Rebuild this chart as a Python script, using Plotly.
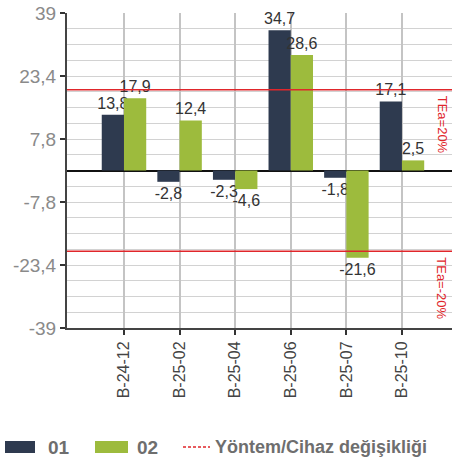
import plotly.graph_objects as go

# ---- data ----
categories = ["B-24-12", "B-25-02", "B-25-04", "B-25-06", "B-25-07", "B-25-10"]
series_01 = [13.8, -2.8, -2.3, 34.7, -1.8, 17.1]
series_02 = [17.9, 12.4, -4.6, 28.6, -21.6, 2.5]
tea_limits = [20, -20]
tea_labels = ["TEa=20%", "TEa=-20%"]
y_tickvals = [-39, -23.4, -7.8, 7.8, 23.4, 39]
y_ticktext = ["-39", "-23,4", "-7,8", "7,8", "23,4", "39"]
legend_names = ["01", "02", "Yöntem/Cihaz değişikliği"]

C01 = "#2e3a4f"
C02 = "#9dbb3d"
RED = "#e0262b"

W, H = 452, 461
PLOT_L, PLOT_T, PLOT_R, PLOT_B = 67, 13, 452, 328  # page pixels

def fmt(v):
    return f"{v:.1f}".replace(".", ",")

fig = go.Figure()
for name, vals, col in [("01", series_01, C01), ("02", series_02, C02)]:
    fig.add_trace(go.Bar(
        x=categories, y=vals, name=name, marker_color=col,
        marker_line_width=0,
        text=[fmt(v) for v in vals], textposition="outside",
        textfont=dict(size=16, color="#333333", family="Liberation Sans"),
        constraintext="none", cliponaxis=False, showlegend=False,
    ))

# minor gridlines every 3.9
grid_vals = [round(k * 3.9, 2) for k in range(-9, 10) if k != 0]

fig.update_layout(
    width=W, height=H,
    margin=dict(l=PLOT_L, r=W - PLOT_R, t=PLOT_T, b=H - PLOT_B, autoexpand=False),
    paper_bgcolor="white", plot_bgcolor="white",
    barmode="group", bargap=0.2, bargroupgap=0,
    font=dict(family="Liberation Sans"),
    showlegend=False,
    xaxis=dict(
        type="category", range=[-1.025, 5.9], automargin=False,
        showgrid=True, gridcolor="#c4c4c4", gridwidth=1.5,
        showline=True, linecolor="#444444", linewidth=2,
        ticks="outside", ticklen=5, tickwidth=2, tickcolor="#333333",
        tickangle=-90, tickfont=dict(size=16, color="#444444"),
        zeroline=False,
    ),
    yaxis=dict(
        range=[-39, 39], tickmode="array", tickvals=y_tickvals, ticktext=y_ticktext,
        automargin=False, showgrid=False,
        minor=dict(tickmode="array", tickvals=grid_vals, showgrid=True,
                   gridcolor="#d2d2d2", gridwidth=1, ticks=""),
        showline=True, linecolor="#444444", linewidth=2,
        ticks="outside", ticklen=5, tickwidth=2, tickcolor="#333333",
        tickfont=dict(size=19, color="#8a8a8a"),
        zeroline=True, zerolinecolor="#111111", zerolinewidth=1.5,
    ),
)

PW = PLOT_R - PLOT_L
PH = PLOT_B - PLOT_T

def px2x(px):
    return (px - PLOT_L) / PW

def py2y(py):
    return (PLOT_B - py) / PH

# TEa limit lines and labels
for lim, lab in zip(tea_limits, tea_labels):
    fig.add_shape(type="line", xref="paper", x0=0, x1=1, yref="y", y0=lim, y1=lim,
                  line=dict(color=RED, width=1.5), layer="above")
    fig.add_annotation(xref="paper", x=px2x(442), yref="y", y=lim, yanchor="top",
                       xanchor="center", yshift=-4, text=lab,
                       textangle=90, showarrow=False,
                       font=dict(size=13, color=RED, family="Liberation Sans"))

# custom legend below the chart
ly = 447
fig.add_shape(type="rect", xref="paper", yref="paper", x0=px2x(5), x1=px2x(35),
              y0=py2y(ly + 6), y1=py2y(ly - 6), fillcolor=C01, line_width=0)
fig.add_annotation(xref="paper", yref="paper", x=px2x(46), y=py2y(ly), xanchor="left",
                   yanchor="middle", text="<b>" + legend_names[0] + "</b>", showarrow=False,
                   font=dict(size=19, color="#6e6e6e"))
fig.add_shape(type="rect", xref="paper", yref="paper", x0=px2x(95), x1=px2x(128),
              y0=py2y(ly + 6), y1=py2y(ly - 6), fillcolor=C02, line_width=0)
fig.add_annotation(xref="paper", yref="paper", x=px2x(135), y=py2y(ly), xanchor="left",
                   yanchor="middle", text="<b>" + legend_names[1] + "</b>", showarrow=False,
                   font=dict(size=19, color="#6e6e6e"))
fig.add_shape(type="line", xref="paper", yref="paper", x0=px2x(183), x1=px2x(210),
              y0=py2y(ly), y1=py2y(ly), line=dict(color=RED, width=1.5, dash="3px,2px"))
fig.add_annotation(xref="paper", yref="paper", x=px2x(213), y=py2y(ly), xanchor="left",
                   yanchor="middle", text="<b>" + legend_names[2] + "</b>", showarrow=False,
                   font=dict(size=18, color="#6e6e6e"))

fig.write_html("out.html", config={"displayModeBar": False},
               post_script="document.body.style.margin='0';")
